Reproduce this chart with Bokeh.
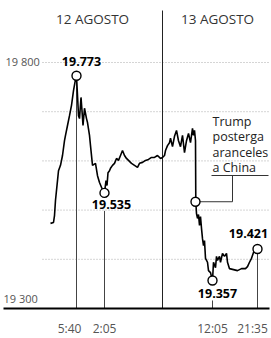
from bokeh.plotting import figure
from bokeh.models import Range1d
from bokeh.core.properties import value
from bokeh.embed import file_html
from bokeh.resources import INLINE

# ---- data -------------------------------------------------------------
# x: session position (compressed trading time), y: index level
pos = [50, 53, 54, 55, 57, 58, 60, 62, 64, 65, 67, 69, 71, 73, 74.5, 76, 77, 78, 79,
       80.5, 81.5, 82.5, 84, 86, 87, 89, 90, 92, 95, 97, 99, 101.5, 104, 105.5, 106.5,
       107.5, 109, 110, 112, 114, 116, 118, 120, 122, 124, 126, 128, 131, 134, 137,
       139, 142, 145, 148, 151, 154, 157, 160, 162, 164, 165, 167, 169, 170, 172, 174,
       176, 178, 180, 182, 184, 186, 188, 190, 192, 193, 194, 195, 195.3, 196, 197,
       198, 199, 200, 201, 202, 203, 204, 205, 207, 208, 210, 212, 213, 215, 216, 217,
       219, 220, 222, 224, 226, 227, 229, 233, 237, 241, 245, 247, 249, 251, 253, 257]
level = [19473, 19475, 19489, 19520, 19560, 19580, 19591, 19611, 19641, 19652, 19672,
         19692, 19713, 19743, 19760, 19773, 19733, 19692, 19686, 19729, 19702, 19672,
         19707, 19686, 19678, 19652, 19631, 19591, 19595, 19570, 19556, 19544, 19535,
         19560, 19550, 19576, 19580, 19585, 19591, 19595, 19605, 19601, 19611, 19621,
         19611, 19605, 19601, 19595, 19591, 19587, 19595, 19597, 19601, 19603, 19607,
         19607, 19611, 19605, 19607, 19611, 19621, 19631, 19637, 19646, 19629, 19650,
         19662, 19641, 19629, 19652, 19617, 19641, 19656, 19637, 19666, 19652, 19662,
         19641, 19517, 19493, 19483, 19491, 19469, 19487, 19463, 19442, 19428, 19438,
         19402, 19394, 19377, 19373, 19357, 19394, 19383, 19406, 19398, 19406, 19394,
         19412, 19406, 19412, 19394, 19381, 19379, 19377, 19381, 19381, 19385, 19394,
         19402, 19414, 19421]

day_labels = ["12 AGOSTO", "13 AGOSTO"]
day_center = [92, 217]
day_split = 162

event_pos = [76, 104, 212, 257]
event_val = [19773, 19535, 19357, 19421]
event_time = ["5:40", "2:05", "12:05", "21:35"]

trump_pos = 195
trump_val = 19517
trump_note = ["Trump", "posterga", "aranceles", "a China"]

y_ticks = [19800, 19300]
y_tick_labels = ["19 800", "19 300"]
grid_vals = [19800, 19700, 19600, 19500, 19400]

# ---- layout constants -------------------------------------------------
PX = 500 / 246.0           # index points per pixel
W, H = 271, 338
Y_TOP = 19800 + 62 * PX
Y_BOT = 19300 - (H - 308) * PX
X0, X1 = 0, W

FONT = value("Open Sans")
LIGHT = "#555555"

p = figure(width=W, height=H, x_range=Range1d(X0, X1), y_range=Range1d(Y_BOT, Y_TOP),
           x_axis_type=None, y_axis_type=None, output_backend="svg",
           toolbar_location=None, min_border=0)
p.grid.visible = False
p.outline_line_color = None
p.background_fill_color = "white"

# dotted grid
p.segment(x0=[42] * len(grid_vals), x1=[268] * len(grid_vals), y0=grid_vals, y1=grid_vals,
          line_color="#aaaaaa", line_width=1, line_dash="1 2")

# day divider
p.segment(x0=[day_split], x1=[day_split], y0=[19300], y1=[Y_TOP - 10 * PX],
          line_color="#222222", line_width=1)

# event drop lines
gaps_top = [0, -18, -20, 0]
p.segment(x0=event_pos, x1=event_pos, y0=[19300] * 4,
          y1=[v + g * PX for v, g in zip(event_val, gaps_top)],
          line_color="#444444", line_width=1)

# series
p.line(pos, level, line_color="black", line_width=1.6)

# baseline
p.segment(x0=[3], x1=[269], y0=[19300], y1=[19300], line_color="black", line_width=2.2)

# trump connector
note_y = 19800 - 113 * PX
p.line([trump_pos, 232, 232], [trump_val, trump_val, note_y], line_color="#333333", line_width=1)
p.segment(x0=[211], x1=[268], y0=[note_y], y1=[note_y], line_color="#333333", line_width=1)
for i, t in enumerate(trump_note):
    p.text(x=[212], y=[note_y], text=[t], text_font=FONT, text_font_size="12.5px",
           text_color="#222222", text_align="left", text_baseline="middle",
           y_offset=-8 - 15.5 * (3 - i))

# markers
p.scatter(event_pos + [trump_pos], event_val + [trump_val], marker="circle", size=9,
          fill_color="white", line_color="black", line_width=1.4)

# event value labels
lab_dx = [5, 7, 5, -9]
lab_dy = [-14, 12, 13, -15]
for xv, v, dx, dy in zip(event_pos, event_val, lab_dx, lab_dy):
    p.text(x=[xv], y=[v], text=[f"{v:,}".replace(",", ".")], text_font=FONT,
           text_font_size="12.5px", text_font_style="bold", text_color="black",
           text_align="center", text_baseline="middle", x_offset=dx, y_offset=dy)

# time labels
time_dx = [-7, 0, 0, -5]
for xv, t, dx in zip(event_pos, event_time, time_dx):
    p.text(x=[xv], y=[19300], text=[t], text_font=FONT, text_font_size="12px",
           text_color=LIGHT, text_align="center", text_baseline="middle",
           x_offset=dx, y_offset=20)

# y labels
p.text(x=[5], y=[y_ticks[0]], text=[y_tick_labels[0]], text_font=FONT, text_font_size="11px",
       text_color=LIGHT, text_align="left", text_baseline="middle", y_offset=-1)
p.text(x=[3], y=[y_ticks[1]], text=[y_tick_labels[1]], text_font=FONT, text_font_size="11px",
       text_color=LIGHT, text_align="left", text_baseline="bottom", y_offset=-3)

# day headers
p.text(x=day_center, y=[19800 + 44 * PX] * 2, text=day_labels, text_font=FONT,
       text_font_size="13.5px", text_color="#333333", text_align="center",
       text_baseline="middle")

open("out.html", "w").write(file_html(p, INLINE))
